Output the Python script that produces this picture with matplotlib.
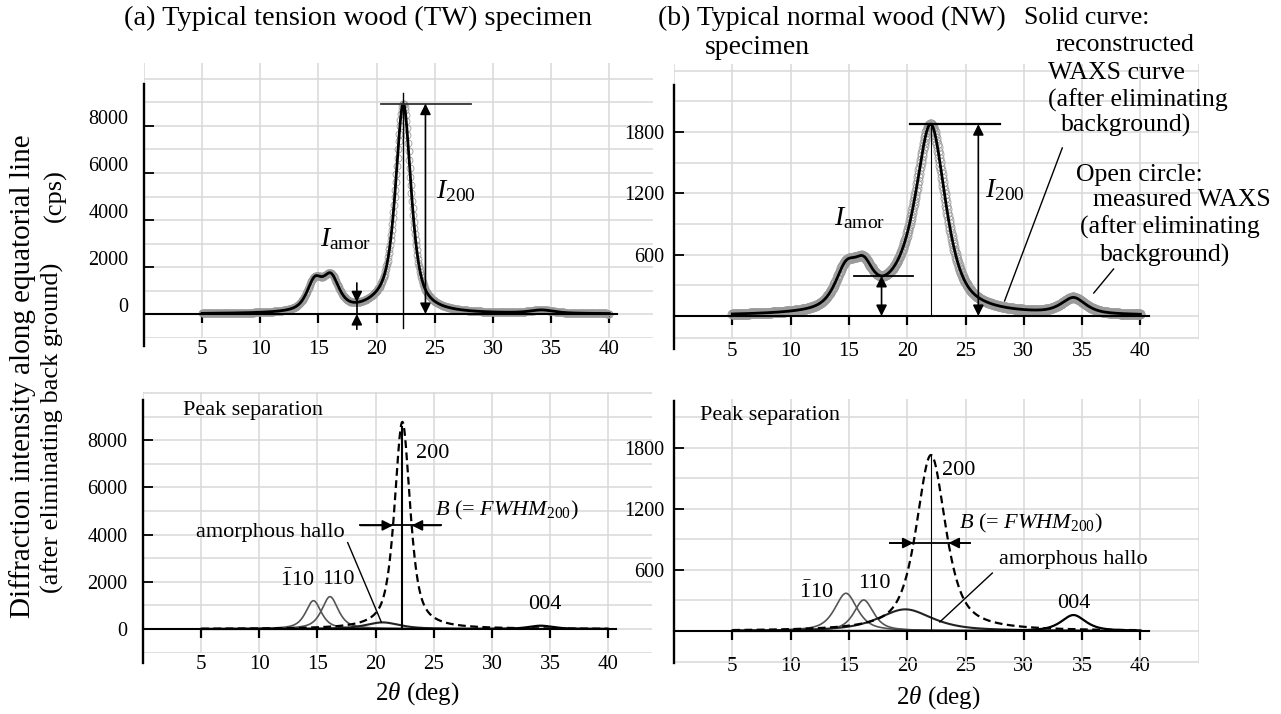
import numpy as np
import matplotlib
matplotlib.use("Agg")
import matplotlib.pyplot as plt
from matplotlib.transforms import ScaledTranslation

plt.rcParams["font.family"] = ["Liberation Serif", "DejaVu Serif"]
plt.rcParams["mathtext.fontset"] = "custom"
plt.rcParams["mathtext.rm"] = "Liberation Serif"
plt.rcParams["mathtext.it"] = "Liberation Serif:italic"
plt.rcParams["mathtext.bf"] = "Liberation Serif:bold"

# ---------------------------------------------------------------- data
# fitted crystalline / amorphous peaks: 2theta centre (deg), height (cps), FWHM (deg)
peak_labels = ["1-10", "110", "amorphous", "200", "004"]
tw_center = [14.66, 16.08, 20.6, 22.3, 34.2]
tw_height = [1200, 1370, 280, 8780, 140]
tw_fwhm = [1.6, 1.7, 3.5, 1.6, 2.5]

nw_center = [14.75, 16.27, 19.84, 22.04, 34.26]
nw_height = [371, 305, 213, 1731, 157]
nw_fwhm = [2.3, 2.0, 5.5, 3.0, 2.5]

lorentz_fraction = 0.7          # pseudo-Voigt mixing of each fitted profile
scan_start, scan_stop, scan_step = 5.0, 40.0, 0.05

x_ticks = [5, 10, 15, 20, 25, 30, 35, 40]
tw_y_ticks = [0, 2000, 4000, 6000, 8000]
nw_y_ticks = [600, 1200, 1800]

tw_amor_pos = 18.3
nw_amor_pos = 17.8


def profile(x, c, h, w):
    d = 2.0 * (x - c) / w
    return h * (lorentz_fraction / (1 + d ** 2)
                + (1 - lorentz_fraction) * np.exp(-np.log(2) * d ** 2))


two_theta = np.arange(scan_start, scan_stop + scan_step / 2, scan_step)
tw_parts = [profile(two_theta, c, h, w) for c, h, w in zip(tw_center, tw_height, tw_fwhm)]
nw_parts = [profile(two_theta, c, h, w) for c, h, w in zip(nw_center, nw_height, nw_fwhm)]
tw_total = np.sum(tw_parts, axis=0)
nw_total = np.sum(nw_parts, axis=0)

# ---------------------------------------------------------------- figure
W, H, DPI = 1281, 714, 100
fig = plt.figure(figsize=(W / DPI, H / DPI), dpi=DPI)
fig.patch.set_facecolor("white")

GRID = "#d8d8d8"


def add_panel(x0, sx, y0, sy, xlim, ylim):
    left = x0 + xlim[0] * sx
    right = x0 + xlim[1] * sx
    top = y0 - ylim[1] * sy
    bottom = y0 - ylim[0] * sy
    ax = fig.add_axes([left / W, 1 - bottom / H, (right - left) / W, (bottom - top) / H])
    ax.set_xlim(xlim)
    ax.set_ylim(ylim)
    ax.set_facecolor("none")
    return ax


def style_panel(ax, xgrid_extra, yticks, ylabels, yminor, ybounds, ylab_shift=0,
                ypad=7.0, fs=15, yfs=14.5):
    for s in ("top", "right"):
        ax.spines[s].set_visible(False)
    ax.spines["left"].set_position(("data", 0))
    ax.spines["bottom"].set_position(("data", 0))
    ax.spines["left"].set_bounds(*ybounds)
    ax.spines["bottom"].set_bounds(0, 40.7)
    ax.spines["left"].set_linewidth(1.7)
    ax.spines["bottom"].set_linewidth(1.5)
    ax.spines["left"].set_zorder(4)
    ax.spines["bottom"].set_zorder(4)

    ax.set_xticks(x_ticks)
    ax.set_xticklabels([str(v) for v in x_ticks])
    ax.set_xticks(xgrid_extra, minor=True)
    ax.tick_params(axis="x", which="major", direction="out", length=6.5, width=1.6,
                   pad=12, labelsize=fs)
    ax.tick_params(axis="x", which="minor", length=0)

    ax.set_yticks(yticks)
    ax.set_yticklabels(ylabels)
    ax.set_yticks(yminor, minor=True)
    ax.tick_params(axis="y", which="major", direction="in", length=7, width=1.3,
                   pad=ypad, labelsize=yfs)
    ax.tick_params(axis="y", which="minor", length=0)
    ax.grid(True, which="both", color=GRID, lw=1.1)
    ax.set_axisbelow(True)
    if ylab_shift:
        off = ScaledTranslation(0, ylab_shift / DPI, fig.dpi_scale_trans)
        for lab in ax.get_yticklabels():
            lab.set_transform(lab.get_transform() + off)


def arrow(ax, start, end, style="-|>", lw=1.2):
    ax.annotate("", xy=end, xytext=start,
                arrowprops=dict(arrowstyle=style, color="black", lw=lw,
                                shrinkA=0, shrinkB=0, mutation_scale=16), zorder=6)


TXT = 18.5

# ---------------------------------------------------------------- (a) measured / reconstructed
ax_a = add_panel(144, 11.63, 314, 0.0235, (0, 43.77), (-1010, 10680))
style_panel(ax_a, [0], tw_y_ticks, [str(v) for v in tw_y_ticks],
            [v for v in range(-1000, 10001, 1000) if v not in tw_y_ticks],
            (-1370, 9800), ylab_shift=9, ypad=11)
ax_a.plot(two_theta, tw_total, ls="none", marker="o", ms=5.0, mfc="none",
          mec="#9a9a9a", mew=0.6, zorder=3)
ax_a.plot(two_theta, tw_total, color="black", lw=2.0, zorder=4)

tw_peak_pos = two_theta[np.argmax(tw_total)]
tw_i200 = tw_total.max()
tw_iamor = np.interp(tw_amor_pos, two_theta, tw_total)
ax_a.plot([tw_peak_pos, tw_peak_pos], [-600, 9400], color="black", lw=1.0, zorder=5)
ax_a.plot([20.4, 28.1], [tw_i200, tw_i200], color="#333333", lw=1.3, zorder=5)
arrow(ax_a, (24.2, 0), (24.2, tw_i200), style="<|-|>")
ax_a.plot([tw_amor_pos, tw_amor_pos], [0, tw_iamor], color="black", lw=1.2, zorder=5)
arrow(ax_a, (tw_amor_pos, 1320), (tw_amor_pos, tw_iamor))
arrow(ax_a, (tw_amor_pos, -650), (tw_amor_pos, 0))
ax_a.text(25.1, 4915, r"$I_{\mathrm{200}}$", fontsize=20, va="baseline", ha="left", zorder=6)
ax_a.text(15.1, 2870, r"$I_{\mathrm{amor}}$", fontsize=20, va="baseline", ha="left", zorder=6)

# ---------------------------------------------------------------- (b) measured / reconstructed
ax_b = add_panel(674, 11.66, 316, 0.10217, (0, 45), (-225, 2470))
style_panel(ax_b, [0, 45], nw_y_ticks, [str(v) for v in nw_y_ticks],
            [-215, 0, 300, 900, 1500, 2100, 2400], (-323, 2260), ypad=7)
ax_b.plot(two_theta, nw_total, ls="none", marker="o", ms=6.5, mfc="none",
          mec="#9a9a9a", mew=0.6, zorder=3)
ax_b.plot(two_theta, nw_total, color="black", lw=2.0, zorder=4)

nw_peak_pos = two_theta[np.argmax(nw_total)]
nw_i200 = nw_total.max()
nw_iamor = np.interp(nw_amor_pos, two_theta, nw_total)
ax_b.plot([nw_peak_pos, nw_peak_pos], [0, nw_i200], color="black", lw=0.8, zorder=5)
ax_b.plot([20.2, 28.0], [nw_i200, nw_i200], color="black", lw=1.6, zorder=5)
arrow(ax_b, (26.1, 0), (26.1, nw_i200), style="<|-|>")
ax_b.plot([15.45, 20.5], [nw_iamor, nw_iamor], color="black", lw=1.3, zorder=5)
arrow(ax_b, (nw_amor_pos, 0), (nw_amor_pos, nw_iamor), style="<|-|>")
ax_b.text(26.7, 1165, r"$I_{\mathrm{200}}$", fontsize=20, va="baseline", ha="left", zorder=6)
ax_b.text(13.7, 890, r"$I_{\mathrm{amor}}$", fontsize=20, va="baseline", ha="left", zorder=6)
ax_b.plot([33.3, 28.35], [1645, 147], color="black", lw=1.0, zorder=6)
ax_b.plot([37.7, 36.0], [460, 225], color="black", lw=1.0, zorder=6)

# ---------------------------------------------------------------- (a) peak separation
ax_c = add_panel(143, 11.63, 629, 0.0236, (0, 43.77), (-1010, 10050))
style_panel(ax_c, [0], tw_y_ticks, [str(v) for v in tw_y_ticks],
            [v for v in range(-1000, 10001, 1000) if v not in tw_y_ticks],
            (-1440, 9700), ypad=11)

# ---------------------------------------------------------------- (b) peak separation
ax_d = add_panel(674, 11.66, 631, 0.10167, (0, 45), (-310, 2280))
style_panel(ax_d, [0, 45], nw_y_ticks, [str(v) for v in nw_y_ticks],
            [-300, 0, 300, 900, 1500, 2100], (-315, 2262), ypad=7)

part_style = [dict(color="#555555", lw=1.2),
              dict(color="#555555", lw=1.2),
              dict(color="#222222", lw=1.5),
              dict(color="black", lw=1.6, ls=(0, (3.5, 2))),
              dict(color="black", lw=1.6)]
for ax, parts in ((ax_c, tw_parts), (ax_d, nw_parts)):
    for prof, st in zip(parts, part_style):
        ax.plot(two_theta, prof, zorder=4, **st)

# 200 peak marker lines and FWHM arrows
ax_c.plot([tw_center[3], tw_center[3]], [0, tw_height[3] * 0.975], color="black", lw=1.5, zorder=5)
ax_d.plot([nw_center[3], nw_center[3]], [0, nw_height[3]], color="black", lw=0.8, zorder=5)
for ax, c, h, w, x_l, x_r in ((ax_c, tw_center[3], tw_height[3], tw_fwhm[3], 18.7, 25.6),
                              (ax_d, nw_center[3], nw_height[3], nw_fwhm[3], 18.5, 25.4)):
    y = h / 2
    ax.plot([x_l, x_r], [y, y], color="black", lw=1.3, zorder=5)
    arrow(ax, (x_l, y), (c - w / 2, y))
    arrow(ax, (x_r, y), (c + w / 2, y))

# panel texts
ax_c.text(3.4, 9250, "Peak separation", fontsize=16, va="center", ha="left")
ax_c.text(23.5, 7420, "200", fontsize=16, va="center", ha="left")
ax_c.text(25.1, 5040, r"$B$ (= $FWHM_{\mathrm{200}}$)", fontsize=16, va="center", ha="left")
ax_c.text(4.6, 4070, "amorphous hallo", fontsize=16, va="center", ha="left")
ax_c.plot([17.6, 20.5], [3660, 284], color="black", lw=1.0, zorder=6)
ax_c.text(11.8, 2080, r"$\bar{\mathrm{1}}$10", fontsize=16, va="center", ha="left")
ax_c.text(15.4, 2080, "110", fontsize=16, va="center", ha="left")
ax_c.text(33.1, 1020, "004", fontsize=16, va="center", ha="left")
ax_c.text(23.6, -2720, r"2$\theta$ (deg)", fontsize=18, va="center", ha="center")

ax_d.text(2.2, 2115, "Peak separation", fontsize=16, va="center", ha="left")
ax_d.text(23.0, 1583, "200", fontsize=16, va="center", ha="left")
ax_d.text(24.4, 1062, r"$B$ (= $FWHM_{\mathrm{200}}$)", fontsize=16, va="center", ha="left")
ax_d.text(27.9, 708, "amorphous hallo", fontsize=16, va="center", ha="left")
ax_d.plot([27.3, 22.8], [570, 89], color="black", lw=1.0, zorder=6)
ax_d.text(10.7, 384, r"$\bar{\mathrm{1}}$10", fontsize=16, va="center", ha="left")
ax_d.text(15.8, 472, "110", fontsize=16, va="center", ha="left")
ax_d.text(32.9, 275, "004", fontsize=16, va="center", ha="left")
ax_d.text(22.7, -650, r"2$\theta$ (deg)", fontsize=18, va="center", ha="center")


# ---------------------------------------------------------------- figure texts
def ftext(x, y, s, **kw):
    fig.text(x / W, 1 - y / H, s, **kw)


ftext(124, 18, "(a) Typical tension wood (TW) specimen", fontsize=20.5, va="center", ha="left")
ftext(658, 18, "(b) Typical normal wood (NW)", fontsize=20, va="center", ha="left")
ftext(705, 48, "specimen", fontsize=20, va="center", ha="left")
for y, s, cx in ((18, "Solid curve:", 1087), (45, "reconstructed", 1125),
                 (73, "WAXS curve", 1116), (100, "(after eliminating", 1138),
                 (125, "background)", 1126), (175, "Open circle:", 1139),
                 (200, "measured WAXS", 1182), (227, "(after eliminating", 1170),
                 (255, "background)", 1165)):
    ftext(cx, y, s, fontsize=TXT, va="center", ha="center")

ftext(23, 618, "Diffraction intensity along equatorial line", fontsize=21,
      rotation=90, va="center", ha="left", rotation_mode="anchor")
ftext(52, 593, "(after eliminating back ground)", fontsize=19,
      rotation=90, va="center", ha="left", rotation_mode="anchor")
ftext(55, 196, "(cps)", fontsize=19, rotation=90, va="center", ha="center")

fig.savefig("out.png", dpi=DPI, facecolor="white")
